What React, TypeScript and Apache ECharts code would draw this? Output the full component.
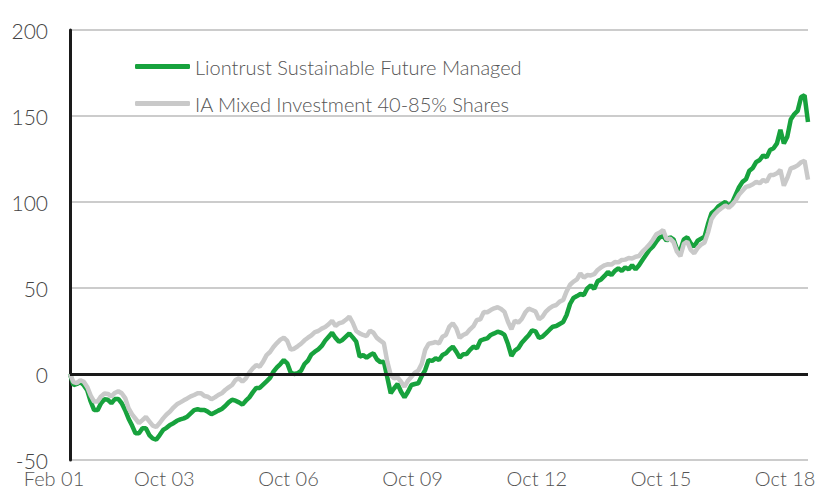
import React, { useEffect, useRef } from "react";
import * as echarts from "echarts";

const seriesNames = [
  "Liontrust Sustainable Future Managed",
  "IA Mixed Investment 40-85% Shares",
];

const xTickLabels = ["Feb 01", "Oct 03", "Oct 06", "Oct 09", "Oct 12", "Oct 15", "Oct 18"];
const yTicks = { min: -50, max: 200, step: 50 };

// Monthly cumulative % performance, Feb 2001 - Dec 2018
const liontrust = [
  0, -6.5, -5.8, -4.7, -6.5, -9.5, -16, -21, -21, -17,
  -14.7, -15, -17, -14.6, -14.5, -17, -21, -26, -30, -34.5,
  -34.5, -31.5, -31.5, -35.5, -37.5, -38.2, -35.5, -32.5, -31.3, -29.6,
  -28.6, -27.2, -26.4, -25.8, -24.8, -22.9, -21, -20.5, -21,
  -20.9, -22, -23.4, -22.4, -21.3, -20.3, -18.6, -16.5, -15, -15.5, -16.5,
  -17.8, -15.5, -13.6, -10.7, -8.1, -8.1, -6.2, -4.3, -2.3, 1.4,
  3.9, 5.8, 8.1, 6.2, 0.8, 0, 0.4, 1.9, 5.8, 7.8,
  11.4, 13, 14.3, 16.3, 19.4, 21.7, 24, 21, 18.8, 19.8,
  21.7, 23.6, 21.3, 18.8, 10.1, 11, 9.5, 11, 12, 8.5,
  6.9, 7.2, -1.9, -11.2, -8.3, -5.8, -10.3, -13.6, -10.3, -6.4,
  -5.8, -5.4, -1.2, 2.3, 8.1, 7.6, 9.1, 8.1, 11, 12,
  14.3, 15.9, 13, 9.5, 11.5, 11.6, 14, 15.9, 15, 19.4,
  20.2, 20.7, 22.7, 23.6, 24.6, 24, 22.7, 17.4, 10.5, 13.6,
  15, 18.2, 20.4, 22.5, 25.4, 24.8, 21, 21.7, 23.6, 25.6,
  27.5, 27.9, 29.1, 30.2, 34.3, 40.7, 44.2, 45.3, 46.5, 45.9,
  49.8, 51.5, 49.5, 54, 55, 57, 59.3, 57.5, 60, 61.4,
  60, 62, 60.8, 63.2, 60.8, 63.2, 66.3, 69.2, 72.1, 74,
  76.9, 79.5, 80.2, 77.5, 79.5, 78.3, 72.5, 72.1, 78.3, 79.5,
  76, 74, 77.5, 78.7, 79.8, 87.2, 93.4, 95, 97.5, 98.8,
  100, 97.7, 99.6, 104.1, 108.6, 111.7, 113.2, 118.2, 119.8, 123.3,
  124.4, 127.1, 126, 130.2, 131.2, 134.1, 142, 134, 138, 148,
  151, 153, 161, 162, 146.5,
];

const sector = [
  0, -4.7, -5.3, -3.6, -4.5, -7.5, -12.5, -16, -16, -13,
  -11.3, -11.6, -13, -11, -10, -11.2, -14, -20, -23.5, -26,
  -28.5, -26.8, -25, -27.5, -30, -30.8, -28.5, -25.8, -23.5, -21.8,
  -19.5, -17.6, -16.5, -15.3, -14.2, -13, -12.2, -11.2, -11.2,
  -12.8, -13.2, -14.7, -13.6, -12.2, -11.2, -9.3, -7.8, -6.4, -3.5, -2.5,
  -4.5, -2.5, 0.8, 3.3, 5.2, 4.3, 7.2, 11, 12.8, 15.7,
  18, 20, 21.1, 19.2, 14.2, 14.7, 16.1, 17.6, 19.6, 21.1,
  22.5, 24.4, 25, 26.4, 27.3, 28.9, 31, 27.9, 29.5, 30,
  31.5, 33.3, 29.8, 25, 23.6, 22.7, 22, 25.2, 24, 21,
  19.4, 18, 7.2, -0.6, -2.5, -2, -4.5, -7.4, -3.9, -1.6,
  0.8, 2, 6, 14, 17.6, 18, 18.6, 17.8, 21.7, 22.7,
  27.5, 29.5, 26.6, 21, 22.7, 23.6, 26, 27.9, 31.4, 31.8,
  36.1, 35.9, 37.2, 38.2, 38.8, 37.8, 36.1, 30.4, 26, 31,
  29.9, 32, 35.7, 38, 37.2, 36.3, 31.8, 33.3, 36.3, 38.2,
  39.5, 40.1, 42.1, 43, 48, 51.9, 53.7, 55, 58.5, 56,
  57.5, 57.3, 58, 60.5, 62, 63.2, 63.8, 63.6, 65.1, 64.9,
  66.3, 66.5, 67.4, 67.2, 68.2, 68.6, 71.1, 73.1, 75.2, 77.9,
  81.2, 82.2, 83.7, 78.3, 78.7, 76.7, 71.1, 68.6, 75.6, 77,
  72.1, 70.2, 73.3, 75.2, 76.4, 82.2, 90, 93, 95, 96.5,
  98, 96.7, 98.4, 100.8, 104.3, 106.6, 108.8, 109.3, 110.3, 111.8,
  110.9, 112.8, 111.8, 115.7, 115.7, 116.7, 118.6, 109.5, 114, 119.6,
  120.2, 121.3, 123.1, 124, 113,
];

const MONTHS = ["Jan", "Feb", "Mar", "Apr", "May", "Jun", "Jul", "Aug", "Sep", "Oct", "Nov", "Dec"];
const startYear = 2001;
const startMonth = 1; // February

const categories = liontrust.map((_, i) => {
  const m = (startMonth + i) % 12;
  const y = startYear + Math.floor((startMonth + i) / 12);
  return `${MONTHS[m]} ${String(y % 100).padStart(2, "0")}`;
});

const FONT = "Lato, 'Open Sans', sans-serif";
const GREEN = "#17a23d";
const GREY = "#c9c9c9";

export default function App() {
  const ref = useRef<HTMLDivElement>(null);

  useEffect(() => {
    if (!ref.current) return;
    const chart = echarts.init(ref.current, null, { renderer: "svg" });
    chart.setOption({
      animation: false,
      grid: {
        left: 70,
        right: 13,
        top: 30,
        bottom: 29,
        containLabel: false,
        outerBoundsMode: "none",
      },
      legend: {
        data: seriesNames,
        orient: "vertical",
        left: 130,
        top: 50,
        itemWidth: 55,
        itemHeight: 5,
        itemGap: 14,
        icon: "roundRect",
        textStyle: { fontFamily: FONT, fontSize: 20, fontWeight: 300, color: "#555", lineHeight: 23 },
      },
      xAxis: {
        type: "category",
        data: categories,
        boundaryGap: false,
        axisLine: { show: false },
        axisTick: { show: false },
        splitLine: { show: false },
        axisLabel: {
          interval: (_i: number, v: string) => xTickLabels.includes(v),
          fontFamily: FONT,
          fontSize: 20,
          fontWeight: 300,
          color: "#555",
          margin: 8,
          lineHeight: 20,
          padding: [0, 32, 0, 0],
        },
      },
      yAxis: {
        type: "value",
        min: yTicks.min,
        max: yTicks.max,
        interval: yTicks.step,
        axisLine: { show: true, lineStyle: { color: "#1a1a1a", width: 3 } },
        axisTick: { show: false },
        splitLine: { show: true, lineStyle: { color: "#cccccc", width: 2 } },
        axisLabel: { fontFamily: FONT, fontSize: 21, fontWeight: 300, color: "#444", margin: 22, lineHeight: 16 },
      },
      series: [
        {
          name: seriesNames[0],
          type: "line",
          data: liontrust,
          symbol: "none",
          showSymbol: false,
          lineStyle: { color: GREEN, width: 4.5 },
          itemStyle: { color: GREEN },
          emphasis: { disabled: true },
          markLine: {
            silent: true,
            symbol: ["none", "none"],
            label: { show: false },
            lineStyle: { color: "#1a1a1a", width: 3, type: "solid" },
            data: [{ yAxis: 0 }],
          },
        },
        {
          name: seriesNames[1],
          type: "line",
          data: sector,
          symbol: "none",
          showSymbol: false,
          lineStyle: { color: GREY, width: 4.5 },
          itemStyle: { color: GREY },
          emphasis: { disabled: true },
        },
      ],
    });
    return () => chart.dispose();
  }, []);

  return (
    <div
      ref={ref}
      style={{ position: "fixed", left: 0, top: 0, width: 821, height: 489, background: "#fff" }}
    />
  );
}
